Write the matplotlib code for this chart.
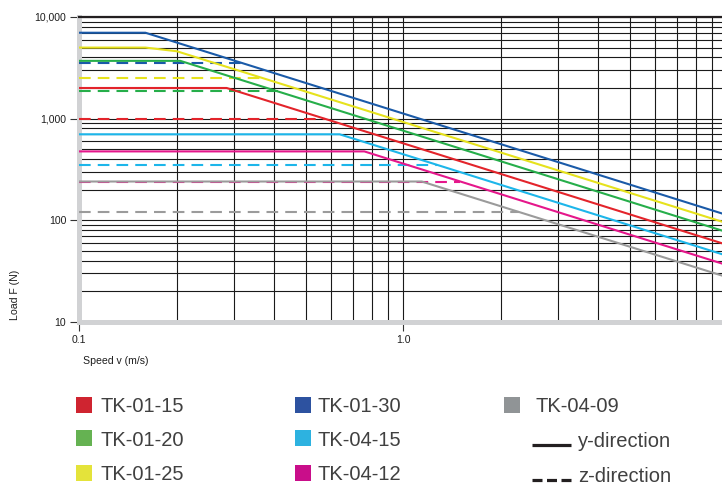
import matplotlib
matplotlib.use("Agg")
import matplotlib.pyplot as plt
from matplotlib.ticker import FixedLocator, FixedFormatter, LogLocator, NullFormatter
from matplotlib.patches import Rectangle
from matplotlib.lines import Line2D

plt.rcParams['font.family'] = ['Liberation Sans', 'DejaVu Sans']

# ---------------- data ----------------
series_names = ["TK-01-15", "TK-01-20", "TK-01-25", "TK-01-30", "TK-04-15", "TK-04-12", "TK-04-09"]
line_colors = ["#e3242b", "#26ae4a", "#e6e21d", "#1a5aa8", "#1db6ea", "#e5178b", "#9b9b9b"]
swatch_colors = ["#cf2430", "#65b252", "#e4e33a", "#2d52a0", "#2db2e0", "#c90e8a", "#909496"]

# y-direction (solid) vertices: speed (m/s), load (N)
y_speed = {
    "TK-01-15": [0.1, 0.285, 10.0],
    "TK-01-20": [0.1, 0.205, 10.0],
    "TK-01-25": [0.1, 0.16, 0.2, 10.0],
    "TK-01-30": [0.1, 0.16, 10.0],
    "TK-04-15": [0.1, 0.636, 10.0],
    "TK-04-12": [0.1, 0.758, 10.0],
    "TK-04-09": [0.1, 1.14, 10.0],
}
y_load = {
    "TK-01-15": [2000, 2000, 57],
    "TK-01-20": [3700, 3700, 76],
    "TK-01-25": [5000, 5000, 4600, 93],
    "TK-01-30": [7000, 7000, 112],
    "TK-04-15": [700, 700, 44.5],
    "TK-04-12": [475, 475, 36],
    "TK-04-09": [240, 240, 27.4],
}
# z-direction (dashed) vertices
z_speed = {
    "TK-01-15": [0.1, 0.575],
    "TK-01-20": [0.1, 0.41],
    "TK-01-25": [0.1, 0.374],
    "TK-01-30": [0.1, 0.32],
    "TK-04-15": [0.1, 1.27],
    "TK-04-12": [0.1, 1.5],
    "TK-04-09": [0.1, 2.28],
}
z_load = {
    "TK-01-15": [1000, 1000],
    "TK-01-20": [1850, 1850],
    "TK-01-25": [2500, 2500],
    "TK-01-30": [3500, 3500],
    "TK-04-15": [350, 350],
    "TK-04-12": [240, 240],
    "TK-04-09": [120, 120],
}

x_ticks = [0.1, 1.0]
x_ticklabels = ["0.1", "1.0"]
y_ticks = [10, 100, 1000, 10000]
y_ticklabels = ["10", "100", "1,000", "10,000"]
x_label = "Speed v (m/s)"
y_label = "Load F (N)"
dir_labels = ["y-direction", "z-direction"]

# ---------------- figure ----------------
W, H = 722, 484
fig = plt.figure(figsize=(W / 100, H / 100), dpi=100)

def fx(px):
    return px / W

def fy(py):
    return 1 - py / H

ax = fig.add_axes([fx(79.3), fy(321.7), 648 / W, (321.7 - 17) / H])
ax.set_xscale("log")
ax.set_yscale("log")
ax.set_xlim(0.1, 10)
ax.set_ylim(10, 10000)

ax.xaxis.set_minor_locator(LogLocator(base=10, subs=range(2, 10)))
ax.yaxis.set_minor_locator(LogLocator(base=10, subs=range(2, 10)))
ax.xaxis.set_minor_formatter(NullFormatter())
ax.yaxis.set_minor_formatter(NullFormatter())
ax.xaxis.set_major_locator(FixedLocator(x_ticks))
ax.xaxis.set_major_formatter(FixedFormatter(x_ticklabels))
ax.yaxis.set_major_locator(FixedLocator(y_ticks))
ax.yaxis.set_major_formatter(FixedFormatter(y_ticklabels))

ax.grid(which="both", color="#1a1a1a", lw=0.8)
ax.set_axisbelow(True)
ax.tick_params(which="major", length=6.5, width=0.8, color="#333333", pad=3,
               labelsize=7.6, labelcolor="#1e1e1e")
ax.tick_params(which="minor", length=0)

for s in ["left", "bottom"]:
    ax.spines[s].set_color("#d1d2d4")
    ax.spines[s].set_linewidth(3.6)
ax.spines["top"].set_color("#231f20")
ax.spines["top"].set_linewidth(1.6)
ax.spines["right"].set_visible(False)

dash = (5.6, 3.4)
for name, col in zip(series_names, line_colors):
    ax.plot(z_speed[name], z_load[name], color=col, lw=1.5, dashes=dash,
            solid_capstyle="butt", dash_capstyle="butt", zorder=3)
for name, col in zip(series_names, line_colors):
    ax.plot(y_speed[name], y_load[name], color=col, lw=1.5, zorder=4)

fig.text(fx(83.3), fy(360.7), x_label, ha="left", va="center", fontsize=7.6, color="#1e1e1e")
fig.text(fx(14.5), fy(295), y_label, ha="center", va="center", rotation=90,
         fontsize=7.6, color="#1e1e1e")

# ---------------- legend ----------------
sw_left = [76, 76, 76, 295, 295, 295, 504]
sw_bottom = [412.7, 446, 480.7, 412.7, 446, 480.7, 412.7]
txt_left = [100.7, 100.7, 100.7, 317.3, 317.3, 317.3, 535]
for i, name in enumerate(series_names):
    fig.patches.append(Rectangle((fx(sw_left[i]), fy(sw_bottom[i])), 16 / W, 16 / H,
                                 transform=fig.transFigure, color=swatch_colors[i], lw=0))
    fig.text(fx(txt_left[i]), fy(sw_bottom[i] - 0.5), name, ha="left", va="baseline",
             fontsize=14.5, color="#404040")

fig.lines.append(Line2D([fx(531.7), fx(571)], [fy(445), fy(445)], transform=fig.transFigure,
                        color="#231f20", lw=2.3, solid_capstyle="butt"))
fig.lines.append(Line2D([fx(531.7), fx(571)], [fy(480), fy(480)], transform=fig.transFigure,
                        color="#231f20", lw=2.3, dashes=(3.13, 1.41), dash_capstyle="butt"))
fig.text(fx(578.3), fy(447), dir_labels[0], ha="left", va="baseline", fontsize=14.5, color="#404040")
fig.text(fx(578.3), fy(481.5), dir_labels[1], ha="left", va="baseline", fontsize=14.5, color="#404040")

fig.savefig("out.png", dpi=100)
